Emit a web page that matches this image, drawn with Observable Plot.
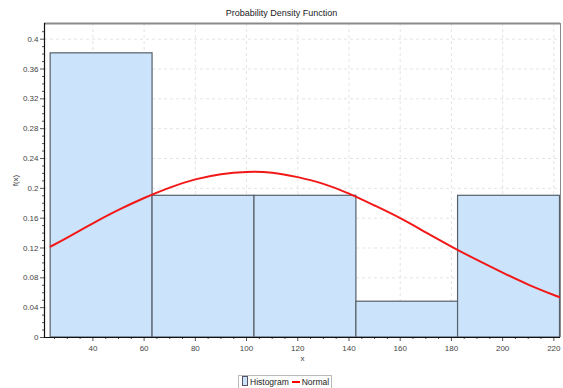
<!DOCTYPE html>
<html>
<head>
<meta charset="utf-8">
<script src="https://cdn.jsdelivr.net/npm/d3@7"></script>
<script src="https://cdn.jsdelivr.net/npm/@observablehq/plot@0.6"></script>
<style>
  html, body { margin: 0; padding: 0; background: #fff; }
  body { width: 563px; height: 388px; overflow: hidden; font-family: "Liberation Sans Narrow", "Liberation Sans", Arial, sans-serif; }
  #title { height: 22px; line-height: 26px; text-align: center; font-size: 9px; color: #222; }
  #legend { height: 18px; position: relative; }
  #legend .box { position: absolute; left: 238px; top: 5px; width: 94px; height: 14px; border: 1px solid #bbb; box-sizing: border-box; font-size: 8.5px; color: #222; line-height: 12px; white-space: nowrap; padding-left: 3px; }
  .sw-hist { display: inline-block; width: 4px; height: 8px; background: #cce4fb; border: 1px solid #556; vertical-align: -1px; margin-right: 2px; }
  .sw-norm { display: inline-block; width: 8px; height: 2px; background: #f00; vertical-align: 2px; margin: 0 2px 0 3px; }
</style>
</head>
<body>
<div id="title">Probability Density Function</div>
<div id="chart"></div>
<div id="legend"><div class="box"><span class="sw-hist"></span>Histogram<span class="sw-norm"></span>Normal</div></div>
<script>
// Histogram bins (edges) and relative frequency heights
const binEdges = [23.5, 63.3, 103.1, 142.9, 182.6, 222.4];
const binHeights = [0.381, 0.190, 0.190, 0.048, 0.190];

// Fitted normal curve
const curveX = [23.5, 30, 40, 50, 60, 70, 80, 90, 100, 110, 120, 130, 140, 150, 160, 170, 180, 190, 200, 210, 220, 222.4];
const curveY = [0.122, 0.134, 0.153, 0.171, 0.187, 0.201, 0.212, 0.219, 0.222, 0.221, 0.215, 0.206, 0.193, 0.177, 0.160, 0.141, 0.122, 0.104, 0.087, 0.071, 0.057, 0.054];

// Axis ticks
const xTicks = [40, 60, 80, 100, 120, 140, 160, 180, 200, 220];
const yTicks = [0, 0.04, 0.08, 0.12, 0.16, 0.2, 0.24, 0.28, 0.32, 0.36, 0.4];
const yTickLabels = ["0", "0.04", "0.08", "0.12", "0.16", "0.2", "0.24", "0.28", "0.32", "0.36", "0.4"];
const xMinor = d3.range(25, 223, 5).filter(v => !xTicks.includes(v));
const yMinor = d3.range(1, 42).map(i => i / 100).filter(v => Math.round(v * 100) % 4 !== 0);

const bins = binHeights.map((h, i) => ({x1: binEdges[i], x2: binEdges[i + 1], h}));
const curve = curveX.map((x, i) => ({x, y: curveY[i]}));

const xDomain = [21.1, 222.6];
const yDomain = [0, 0.421];

const chart = Plot.plot({
  width: 563,
  height: 348,
  marginLeft: 44,
  marginRight: 3,
  marginTop: 1,
  marginBottom: 33,
  style: {fontFamily: '"Liberation Sans Narrow", "Liberation Sans", Arial, sans-serif', fontSize: "8px", color: "#333", background: "#fff"},
  x: {domain: xDomain},
  y: {domain: yDomain},
  marks: [
    Plot.gridX(xTicks, {stroke: "#e4e4e4", strokeOpacity: 1, strokeDasharray: "3,3"}),
    Plot.gridY(yTicks, {stroke: "#e4e4e4", strokeOpacity: 1, strokeDasharray: "3,3"}),
    Plot.rect(bins, {x1: "x1", x2: "x2", y1: 0, y2: "h", fill: "#cce4fb", stroke: "#56606b", strokeWidth: 1.2}),
    Plot.line(curve, {x: "x", y: "y", stroke: "#f21818", strokeWidth: 2, curve: "natural"}),
    Plot.ruleY([yDomain[1]], {stroke: "#8a8a8a", strokeWidth: 2}),
    Plot.ruleX([xDomain[1]], {stroke: "#8a8a8a", strokeWidth: 1}),
    Plot.axisX(xMinor, {tickSize: 2, text: null, label: null, stroke: "#555"}),
    Plot.axisY(yMinor, {tickSize: 2, text: null, label: null, stroke: "#555"}),
    Plot.axisX(xTicks, {tickSize: 4, tickPadding: 4, tickFormat: d => String(d), stroke: "#555", fill: "#444", label: "x", labelAnchor: "center", labelArrow: "none", labelOffset: 23}),
    Plot.axisY(yTicks, {tickSize: 4, tickPadding: 2, tickFormat: (d, i) => yTickLabels[i], stroke: "#555", fill: "#444", label: "f(x)", labelAnchor: "center", labelArrow: "none", labelOffset: 32}),
    Plot.ruleX([xDomain[0]], {stroke: "#111", strokeWidth: 1.2}),
    Plot.ruleY([0], {stroke: "#111", strokeWidth: 1.2})
  ]
});
document.getElementById("chart").appendChild(chart);
</script>
</body>
</html>
